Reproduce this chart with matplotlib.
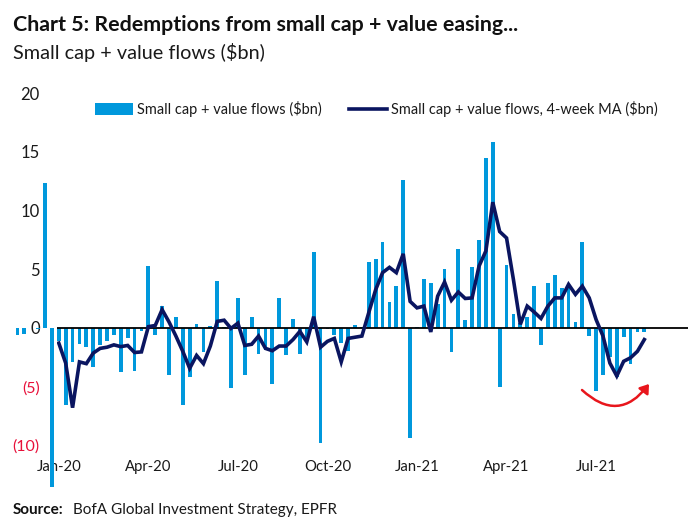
import matplotlib
matplotlib.use("Agg")
import matplotlib.pyplot as plt
from matplotlib.patches import FancyArrowPatch

W, H = 700, 530
flows = [-0.6, -0.55, -0.05, -0.1,
         12.36, -13.55, -1.1, -6.6, -2.9, -1.4, -1.6, -3.3, -1.5, -1.1, -0.6, -3.8, -0.9, -3.7, -0.3,
         5.25, -0.6, 1.9, -4.0, 0.9, -6.6, -4.2, 0.3, -2.1, 0.15, 4.0, 0.1, -5.1, 2.5, -4.0, 0.95,
         -2.2, -1.85, -4.8, 2.5, -2.35, 0.75, -2.2, -0.8, 6.5, -9.8, -0.1, -0.6, -1.3, -2.0, 0.2,
         0.05, 5.6, 5.9, 7.3, 2.2, 3.55, 12.6, -9.4, 0.05, 4.2, 3.85, 2.0, 5.0, -2.1, 6.7, 0.7,
         5.2, 7.5, 14.5, 15.85, -5.0, 5.35, 1.2, 0.4, 0.9, 3.6, -1.45, 3.8, 4.5, 3.4, 3.5, 0.5,
         7.3, -0.7, -5.4, -4.05, -2.5, -4.2, -0.75, -3.05, -0.35, -0.35]
ma = [-1.3, -3.0, -6.8, -2.9, -3.05, -2.15, -1.75, -1.65, -1.45, -1.6, -1.5, -2.1, -2.05,
      0.1, 0.2, 1.55, 0.5, -0.7, -2.0, -3.45, -2.35, -3.05, -1.55, 0.55, 0.65, -0.05, 0.4,
      -1.5, -1.4, -0.7, -1.75, -1.95, -1.55, -1.55, -1.0, -0.3, -1.2, 0.95, -1.65, -1.15,
      -0.9, -2.9, -0.9, -0.8, -0.7, 1.3, 3.25, 4.7, 5.15, 4.7, 6.3, 2.25, 1.7, 1.85, -0.35,
      2.7, 3.9, 2.35, 3.05, 2.5, 2.55, 5.25, 6.55, 10.7, 8.2, 7.65, 4.1, 0.3, 1.85, 1.35,
      0.8, 1.85, 2.55, 2.55, 3.7, 2.85, 3.55, 2.55, 0.7, -0.7, -3.0, -4.1, -2.85, -2.55,
      -2.0, -1.0]
weeks = list(range(-4, len(flows) - 4))
ma_weeks = weeks[6:6 + len(ma)]
tick_weeks = [2, 15, 28, 41, 54, 67, 80]
tick_labels = ["Jan-20", "Apr-20", "Jul-20", "Oct-20", "Jan-21", "Apr-21", "Jul-21"]
y_ticks = [-10, -5, 0, 5, 10, 15, 20]
y_labels = ["(10)", "(5)", "0", "5", "10", "15", "20"]

FONT = ["Lato", "DejaVu Sans"]
plt.rcParams["font.family"] = FONT
BAR, LINE, RED = "#0098DC", "#0A1560", "#E8103A"

fig = plt.figure(figsize=(W / 100, H / 100), dpi=100, facecolor="white")
left, right, top, bottom = 57, 688, 93, 457
ax = fig.add_axes([left / W, 1 - bottom / H, (right - left) / W, (bottom - top) / H])
ax.set_xlim(1.74, 93.34)
ax.set_ylim(-11, 20)

bars = ax.bar(weeks, flows, width=0.55, color=BAR, clip_on=False, zorder=2,
              label="Small cap + value flows ($bn)")
line, = ax.plot(ma_weeks, ma, color=LINE, lw=2.6, solid_joinstyle="miter", zorder=4,
                label="Small cap + value flows, 4-week MA ($bn)")
ax.axhline(0, color="black", lw=1.3, zorder=3)

for s in ax.spines.values():
    s.set_visible(False)
ax.set_xticks(tick_weeks, tick_labels)
ax.set_yticks(y_ticks, y_labels)
ax.tick_params(axis="both", length=0, labelsize=10.7, colors="#1a1a1a")
ax.tick_params(axis="x", pad=2.5)
ax.tick_params(axis="y", pad=12.5, labelsize=12)
for t, v in zip(ax.get_yticklabels(), y_ticks):
    if v < 0:
        t.set_color(RED)
        t.set_fontsize(11.5)

leg = ax.legend(handles=[bars, line], loc="upper left",
                bbox_to_anchor=((95 - left) / (right - left), 1 - 8 / (bottom - top)),
                ncol=2, frameon=False, fontsize=10.45, handlelength=2.62, handleheight=0.83,
                columnspacing=1.93, handletextpad=0.25, borderaxespad=0, borderpad=0)
for t in leg.get_texts():
    t.set_color("#1a1a1a")

fig.text(13 / W, 1 - 25 / H, "Chart 5: Redemptions from small cap + value easing...",
         weight="bold", fontsize=15.4, va="center", color="#111111")
fig.text(13 / W, 1 - 52 / H, "Small cap + value flows ($bn)", fontsize=14.3, va="center", color="#1a1a1a")
fig.text(13 / W, 1 - 510 / H, "Source:", weight="bold", fontsize=11, va="center", color="#111111")
fig.text(73 / W, 1 - 510 / H, "BofA Global Investment Strategy, EPFR", fontsize=11, va="center", color="#1a1a1a")

arrow = FancyArrowPatch((582 / W, 1 - 390 / H), (649 / W, 1 - 384 / H), transform=fig.transFigure,
                        connectionstyle="arc3,rad=0.55", arrowstyle="-|>,head_length=5,head_width=3.5",
                        color="#E8161C", lw=1.8, shrinkA=0, shrinkB=0)
fig.add_artist(arrow)

fig.savefig("out.png", dpi=100)
